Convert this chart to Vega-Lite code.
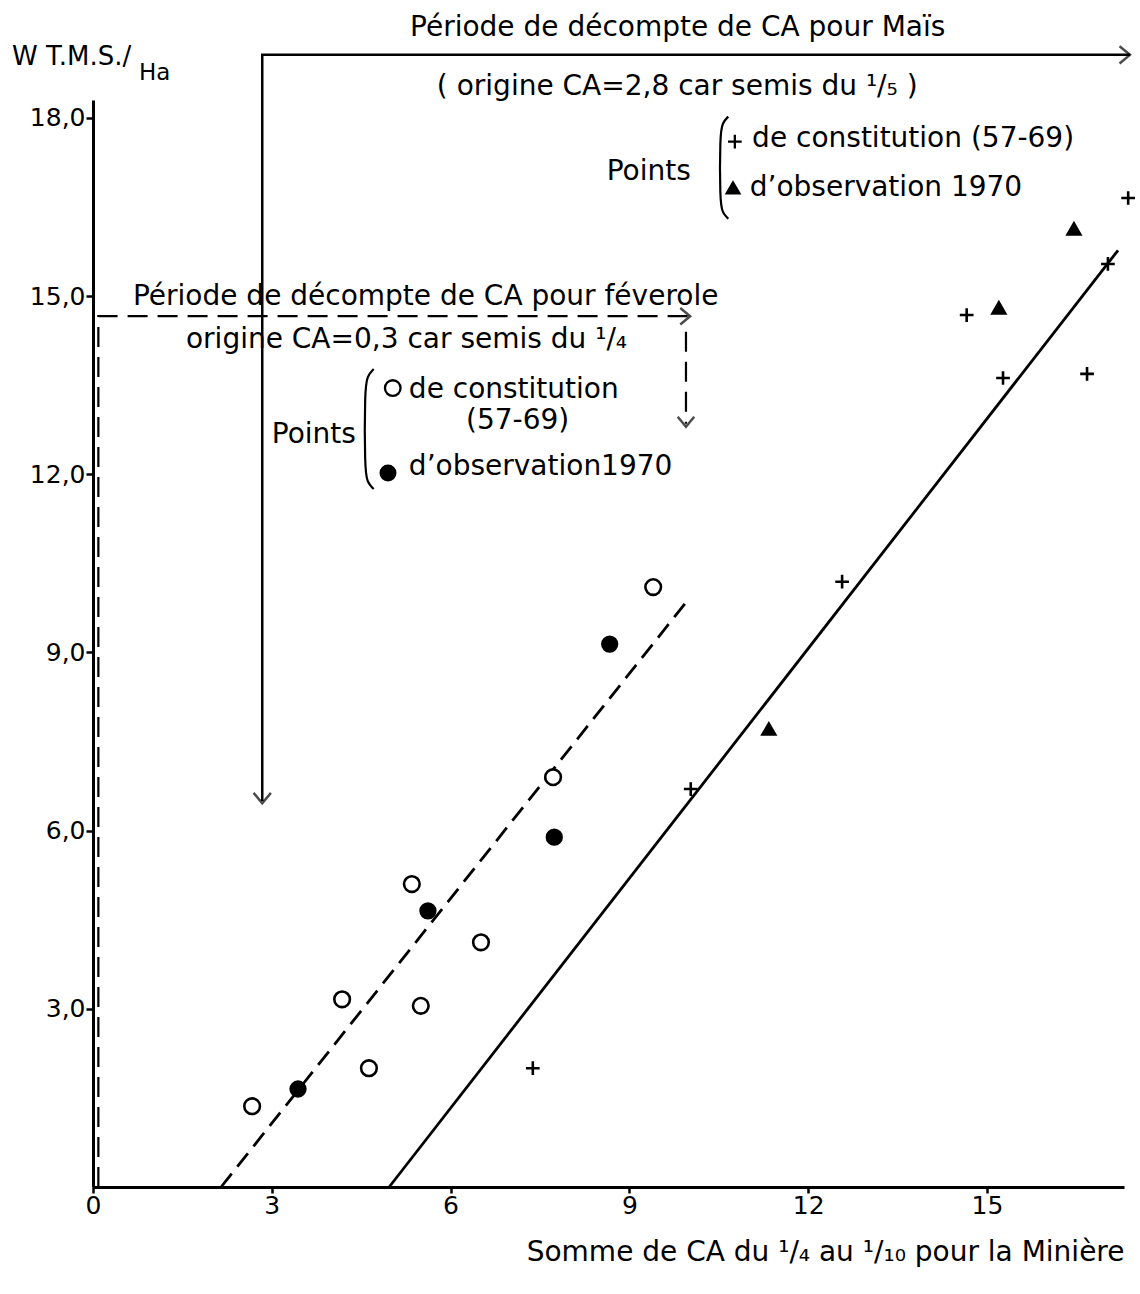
{
  "$schema": "https://vega.github.io/schema/vega-lite/v6.json",
  "autosize": "none",
  "width": 1031,
  "height": 1087,
  "padding": {"left": 93, "top": 100, "right": 16, "bottom": 107},
  "background": "white",
  "config": {
    "view": {"stroke": null},
    "font": "DejaVu Sans",
    "axis": {
      "grid": false,
      "domainColor": "black",
      "domainWidth": 3,
      "tickColor": "black",
      "tickWidth": 2.5,
      "tickSize": 7,
      "labelColor": "black",
      "labelFont": "DejaVu Sans",
      "labelFontSize": 25,
      "titleColor": "black",
      "titleFont": "DejaVu Sans",
      "titleFontWeight": "normal",
      "labelFlush": false
    }
  },
  "datasets": {
    "points": [
      {"series": "féverole constitution", "x": 2.67, "y": 1.36},
      {"series": "féverole constitution", "x": 4.18, "y": 3.16},
      {"series": "féverole constitution", "x": 4.63, "y": 2.0},
      {"series": "féverole constitution", "x": 5.35, "y": 5.10},
      {"series": "féverole constitution", "x": 5.50, "y": 3.05},
      {"series": "féverole constitution", "x": 6.51, "y": 4.12},
      {"series": "féverole constitution", "x": 7.72, "y": 6.90},
      {"series": "féverole constitution", "x": 9.40, "y": 10.10},
      {"series": "féverole 1970", "x": 3.44, "y": 1.65},
      {"series": "féverole 1970", "x": 5.62, "y": 4.65},
      {"series": "féverole 1970", "x": 7.74, "y": 5.89},
      {"series": "féverole 1970", "x": 8.67, "y": 9.14},
      {"series": "maïs constitution", "x": 7.38, "y": 2.0},
      {"series": "maïs constitution", "x": 10.03, "y": 6.70},
      {"series": "maïs constitution", "x": 12.57, "y": 10.19},
      {"series": "maïs constitution", "x": 14.66, "y": 14.68},
      {"series": "maïs constitution", "x": 15.27, "y": 13.62},
      {"series": "maïs constitution", "x": 16.68, "y": 13.69},
      {"series": "maïs constitution", "x": 17.03, "y": 15.54},
      {"series": "maïs constitution", "x": 17.37, "y": 16.65},
      {"series": "maïs 1970", "x": 11.34, "y": 7.71},
      {"series": "maïs 1970", "x": 15.20, "y": 14.80},
      {"series": "maïs 1970", "x": 16.46, "y": 16.13}
    ],
    "keys": [
      {"series": "maïs constitution", "x": 10.77, "y": 17.6},
      {"series": "maïs 1970", "x": 10.74, "y": 16.82},
      {"series": "féverole constitution", "x": 5.03, "y": 13.45},
      {"series": "féverole 1970", "x": 4.95, "y": 12.02}
    ],
    "fits": [
      {"culture": "féverole", "x": 2.15, "y": 0},
      {"culture": "féverole", "x": 10.02, "y": 9.93},
      {"culture": "maïs", "x": 4.97, "y": 0},
      {"culture": "maïs", "x": 17.2, "y": 15.77}
    ],
    "guides": [
      {"g": "maïs", "i": 1, "x": 2.84, "y": 6.5},
      {"g": "maïs", "i": 2, "x": 2.84, "y": 19.06},
      {"g": "maïs", "i": 3, "x": 17.4, "y": 19.06},
      {"g": "féverole", "i": 1, "x": 0.09, "y": 0},
      {"g": "féverole", "i": 2, "x": 0.09, "y": 14.66},
      {"g": "féverole", "i": 3, "x": 10.0, "y": 14.66},
      {"g": "féverole-bas", "i": 1, "x": 9.95, "y": 14.4},
      {"g": "féverole-bas", "i": 2, "x": 9.95, "y": 12.85}
    ],
    "heads": [
      {"g": "maïs", "dir": "droite", "x": 17.4, "y": 19.06},
      {"g": "maïs", "dir": "bas", "x": 2.84, "y": 6.46},
      {"g": "féverole", "dir": "droite", "x": 10.02, "y": 14.66},
      {"g": "féverole", "dir": "bas", "x": 9.95, "y": 12.8}
    ],
    "braces": [
      {"b": "maïs", "i": 1, "x": 10.66, "y": 18.02},
      {"b": "maïs", "i": 2, "x": 10.56, "y": 17.92},
      {"b": "maïs", "i": 3, "x": 10.52, "y": 17.7},
      {"b": "maïs", "i": 4, "x": 10.52, "y": 16.6},
      {"b": "maïs", "i": 5, "x": 10.56, "y": 16.4},
      {"b": "maïs", "i": 6, "x": 10.66, "y": 16.3},
      {"b": "féverole", "i": 1, "x": 4.71, "y": 13.77},
      {"b": "féverole", "i": 2, "x": 4.60, "y": 13.66},
      {"b": "féverole", "i": 3, "x": 4.56, "y": 13.4},
      {"b": "féverole", "i": 4, "x": 4.56, "y": 12.1},
      {"b": "féverole", "i": 5, "x": 4.60, "y": 11.86},
      {"b": "féverole", "i": 6, "x": 4.71, "y": 11.75}
    ],
    "notes": [
      {"x": 5.32, "y": 19.51, "text": "Période de décompte de CA pour Maïs"},
      {"x": 5.77, "y": 18.52, "text": "( origine CA=2,8 car semis du ¹/₅ )"},
      {"x": 8.62, "y": 17.09, "text": "Points"},
      {"x": 11.06, "y": 17.64, "text": "de constitution (57-69)"},
      {"x": 11.02, "y": 16.82, "text": "d’observation 1970"},
      {"x": 0.67, "y": 14.98, "text": "Période de décompte de CA pour féverole"},
      {"x": 1.56, "y": 14.26, "text": "origine CA=0,3 car semis du ¹/₄"},
      {"x": 3.0, "y": 12.66, "text": "Points"},
      {"x": 5.30, "y": 13.42, "text": "de constitution"},
      {"x": 6.26, "y": 12.90, "text": "(57-69)"},
      {"x": 5.30, "y": 12.12, "text": "d’observation1970"}
    ],
    "ytitle": [
      {"x": -1.36, "y": 19.02, "text": "W T.M.S./"}
    ],
    "ytitlesub": [
      {"x": 0.77, "y": 18.76, "text": "Ha"}
    ]
  },
  "encoding": {
    "x": {
      "field": "x",
      "type": "quantitative",
      "scale": {"domain": [0, 17.3], "nice": false, "zero": false},
      "axis": {
        "values": [0, 3, 6, 9, 12, 15],
        "title": "Somme de CA du ¹/₄ au ¹/₁₀ pour la Minière",
        "titleAnchor": "end",
        "titleAlign": "right",
        "titleFontSize": 28,
        "titleY": 65,
        "titleBaseline": "middle",
        "tickSize": 6,
        "labelPadding": 0
      }
    },
    "y": {
      "field": "y",
      "type": "quantitative",
      "scale": {"domain": [0, 18.3], "nice": false, "zero": false},
      "axis": {
        "values": [3, 6, 9, 12, 15, 18],
        "title": null,
        "labelExpr": "replace(format(datum.value, '.1f'), '.', ',')",
        "labelPadding": 1
      }
    }
  },
  "layer": [
    {
      "data": {"name": "guides"},
      "transform": [{"filter": "datum.g === 'maïs'"}],
      "mark": {"type": "line", "color": "black", "strokeWidth": 2.5},
      "encoding": {"order": {"field": "i", "type": "quantitative"}}
    },
    {
      "data": {"name": "guides"},
      "transform": [{"filter": "datum.g !== 'maïs'"}],
      "mark": {"type": "line", "color": "black", "strokeWidth": 2.2, "strokeDash": [20, 10]},
      "encoding": {
        "detail": {"field": "g", "type": "nominal"},
        "order": {"field": "i", "type": "quantitative"}
      }
    },
    {
      "data": {"name": "heads"},
      "mark": {"type": "point", "shape": "M-1.2,-1L0,0L-1.2,1", "filled": false, "stroke": "black", "strokeWidth": 2.5},
      "encoding": {
        "angle": {"field": "dir", "type": "nominal", "scale": {"domain": ["droite", "bas"], "range": [0, 90]}, "legend": null},
        "size": {"field": "g", "type": "nominal", "scale": {"domain": ["maïs", "féverole"], "range": [300, 160]}, "legend": null}
      }
    },
    {
      "data": {"name": "fits"},
      "transform": [{"filter": "datum.culture === 'maïs'"}],
      "mark": {"type": "line", "color": "black", "strokeWidth": 2.8},
      "encoding": {}
    },
    {
      "data": {"name": "fits"},
      "transform": [{"filter": "datum.culture === 'féverole'"}],
      "mark": {"type": "line", "color": "black", "strokeWidth": 2.8, "strokeDash": [17, 9]},
      "encoding": {}
    },
    {
      "data": {"name": "braces"},
      "mark": {"type": "line", "color": "black", "strokeWidth": 2.2, "interpolate": "basis"},
      "encoding": {
        "detail": {"field": "b", "type": "nominal"},
        "order": {"field": "i", "type": "quantitative"}
      }
    },
    {
      "data": {"name": "points"},
      "mark": {"type": "point", "filled": true, "stroke": "black", "strokeWidth": 2.6, "opacity": 1},
      "encoding": {
        "shape": {"field": "series", "type": "nominal", "scale": {"domain": ["féverole constitution", "féverole 1970", "maïs constitution", "maïs 1970"], "range": ["circle", "circle", "M-1,0L1,0M0,-1L0,1", "triangle-up"]}, "legend": null},
        "fill": {"field": "series", "type": "nominal", "scale": {"domain": ["féverole constitution", "féverole 1970", "maïs constitution", "maïs 1970"], "range": ["white", "black", "black", "black"]}, "legend": null},
        "size": {"field": "series", "type": "nominal", "scale": {"domain": ["féverole constitution", "féverole 1970", "maïs constitution", "maïs 1970"], "range": [68, 90, 340, 150]}, "legend": null}
      }
    },
    {
      "data": {"name": "keys"},
      "mark": {"type": "point", "filled": true, "stroke": "black", "strokeWidth": 2.3, "opacity": 1},
      "encoding": {
        "shape": {"field": "series", "type": "nominal", "legend": null},
        "fill": {"field": "series", "type": "nominal", "legend": null},
        "size": {"field": "series", "type": "nominal", "legend": null}
      }
    },
    {
      "data": {"name": "notes"},
      "mark": {"type": "text", "align": "left", "baseline": "middle", "font": "DejaVu Sans", "fontSize": 28, "color": "black"},
      "encoding": {"text": {"field": "text"}}
    },
    {
      "data": {"name": "ytitle"},
      "mark": {"type": "text", "align": "left", "baseline": "middle", "font": "DejaVu Sans", "fontSize": 26, "color": "black"},
      "encoding": {"text": {"field": "text"}}
    },
    {
      "data": {"name": "ytitlesub"},
      "mark": {"type": "text", "align": "left", "baseline": "middle", "font": "DejaVu Sans", "fontSize": 23, "color": "black"},
      "encoding": {"text": {"field": "text"}}
    }
  ]
}
